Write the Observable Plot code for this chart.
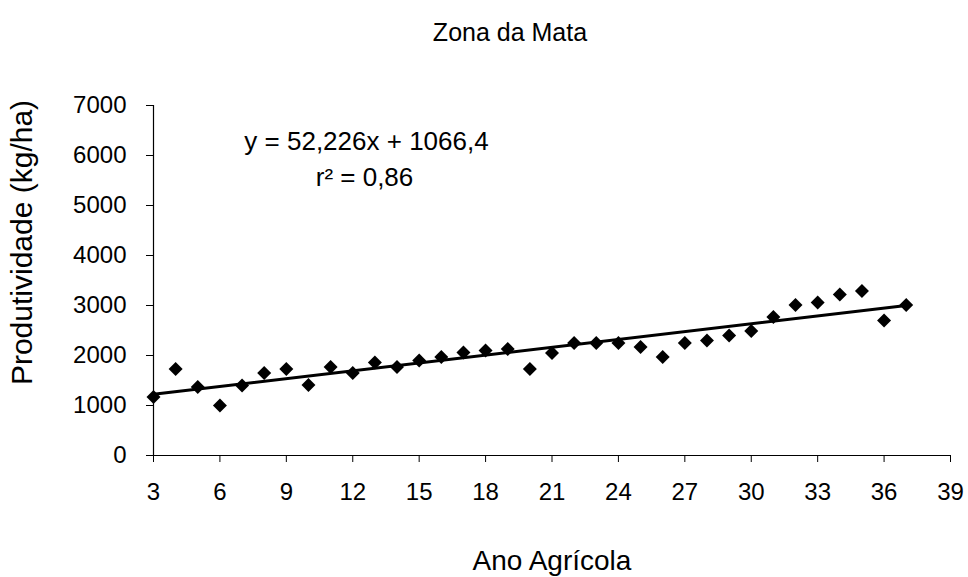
<!DOCTYPE html>
<html><head><meta charset="utf-8">
<script src="https://cdn.jsdelivr.net/npm/d3@7"></script>
<script src="https://cdn.jsdelivr.net/npm/@observablehq/plot@0.6"></script>
<style>
body{margin:0;background:#fff;font-family:"Liberation Sans",Arial,sans-serif;color:#000;}
#title{position:absolute;top:20px;left:510px;transform:translateX(-50%);font-size:25px;line-height:1;white-space:nowrap;}
#chart{position:absolute;top:60px;left:0;}
</style></head><body>
<div id="title">Zona da Mata</div>
<div id="chart"></div>
<script>
const years = [3,4,5,6,7,8,9,10,11,12,13,14,15,16,17,18,19,20,21,22,23,24,25,26,27,28,29,30,31,32,33,34,35,36,37];
const produtividade = [1170,1730,1370,1000,1400,1650,1730,1410,1770,1650,1860,1770,1900,1970,2060,2100,2130,1730,2050,2250,2250,2250,2170,1970,2250,2300,2400,2490,2770,3010,3060,3220,3290,2700,3010];
const xTicks = [3,6,9,12,15,18,21,24,27,30,33,36,39];
const yTicks = [0,1000,2000,3000,4000,5000,6000,7000];
const slope = 52.226, intercept = 1066.4;
const eqLines = ["y = 52,226x + 1066,4", "r² = 0,86"];

const data = years.map((x, i) => ({x, y: produtividade[i]}));
const trend = d3.extent(years).map(x => ({x, y: slope * x + intercept}));

const chart = Plot.plot({
  width: 968, height: 517,
  marginLeft: 153, marginRight: 18, marginTop: 45, marginBottom: 122,
  style: {fontFamily: '"Liberation Sans", Arial, sans-serif', fontSize: "24px", color: "#000", background: "#fff"},
  x: {domain: [3, 39]},
  y: {domain: [0, 7000]},
  marks: [
    Plot.axisX({ticks: xTicks, tickSize: 7, tickPadding: 20, tickFormat: d => String(d), label: null}),
    Plot.axisY({ticks: yTicks, tickSize: 7, tickPadding: 20, tickFormat: d => String(d), label: null}),
    Plot.text(["Ano Agrícola"], {text: d => d, frameAnchor: "bottom", dy: 114, textAnchor: "middle", fontSize: 28, fill: "#000"}),
    Plot.text(["Produtividade (kg/ha)"], {text: d => d, frameAnchor: "left", dx: -131, dy: -38, rotate: -90, textAnchor: "middle", fontSize: 30, fill: "#000"}),
    Plot.ruleY([0], {stroke: "#000", strokeWidth: 1.2}),
    Plot.ruleX([3], {stroke: "#000", strokeWidth: 1.2}),
    Plot.line(trend, {x: "x", y: "y", stroke: "#000", strokeWidth: 3}),
    Plot.dot(data, {x: "x", y: "y", symbol: "diamond2", r: 6.3, fill: "#000", stroke: "none"}),
    Plot.text([eqLines[0]], {text: d => d, frameAnchor: "top-left", dx: 213, dy: 26, textAnchor: "middle", fontSize: 26, fill: "#000"}),
    Plot.text([eqLines[1]], {text: d => d, frameAnchor: "top-left", dx: 211, dy: 62, textAnchor: "middle", fontSize: 26, fill: "#000"})
  ]
});
document.getElementById("chart").appendChild(chart);
</script>
</body></html>
